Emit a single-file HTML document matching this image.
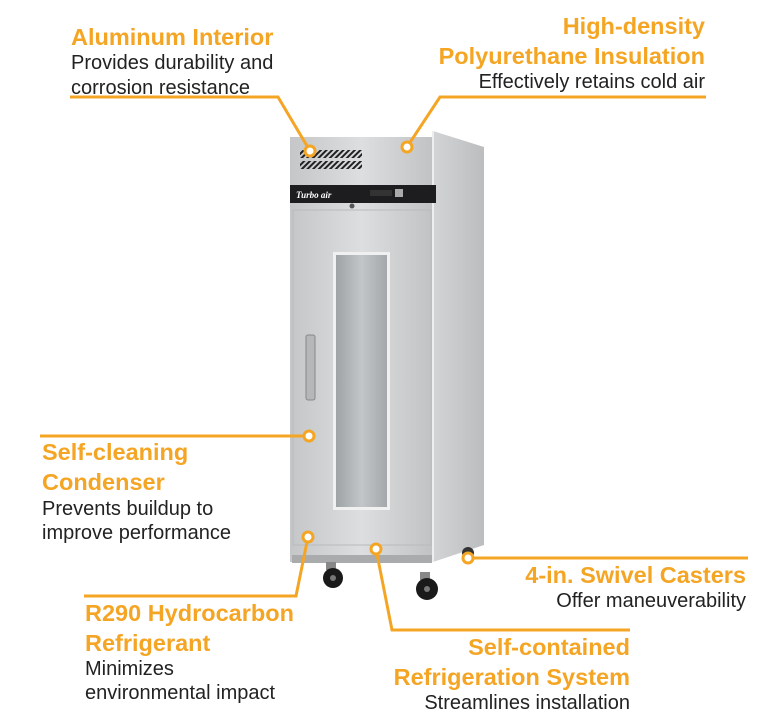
<!DOCTYPE html>
<html><head><meta charset="utf-8"><style>
html,body{margin:0;padding:0;background:#fff;}
svg{display:block;}
.t{font-family:"Liberation Sans",sans-serif;font-weight:bold;font-size:23.5px;fill:#f5a524;}
.b{font-family:"Liberation Sans",sans-serif;font-size:20px;fill:#222;}
</style></head><body>
<svg width="770" height="726" viewBox="0 0 770 726" xmlns="http://www.w3.org/2000/svg">
<defs>
<linearGradient id="front" x1="0" x2="1" y1="0" y2="0">
<stop offset="0" stop-color="#c4c6c8"/><stop offset="0.5" stop-color="#dcdee0"/><stop offset="1" stop-color="#c0c2c4"/>
</linearGradient>
<linearGradient id="side" x1="0" x2="1"><stop offset="0" stop-color="#d2d4d6"/><stop offset="1" stop-color="#bbbdbf"/></linearGradient>
<linearGradient id="glass" x1="0" x2="1"><stop offset="0" stop-color="#9ea3a6"/><stop offset="0.5" stop-color="#c2c6c8"/><stop offset="1" stop-color="#a4a8ab"/></linearGradient>
<pattern id="vent" width="4" height="4" patternUnits="userSpaceOnUse" patternTransform="rotate(45)"><rect width="2" height="4" fill="#222"/></pattern>
</defs>
<polygon points="433,131 484,147 484,545 433,562" fill="url(#side)"/>
<rect x="290" y="137" width="143" height="425" fill="url(#front)"/>
<line x1="433" y1="131" x2="433" y2="562" stroke="#eee" stroke-width="2"/>
<rect x="300" y="150" width="62" height="8" fill="url(#vent)"/>
<rect x="300" y="161" width="62" height="8" fill="url(#vent)"/>
<rect x="290" y="185" width="146" height="18" fill="#1d1d1f"/>
<text x="296" y="198" font-family="Liberation Serif,serif" font-style="italic" font-weight="bold" font-size="9" fill="#fff">Turbo air</text>
<rect x="370" y="190" width="22" height="6" fill="#333"/>
<rect x="395" y="189" width="8" height="8" fill="#aaa"/>
<circle cx="352" cy="206" r="2.5" fill="#555"/>
<rect x="293" y="210" width="138" height="335" fill="none" stroke="#b8babc" stroke-width="1"/>
<rect x="333" y="252" width="57" height="258" fill="#f0f0f0"/>
<rect x="336" y="255" width="51" height="252" fill="url(#glass)"/>
<rect x="306" y="335" width="9" height="65" rx="2" fill="#b5b7b9" stroke="#888"/>
<rect x="292" y="555" width="140" height="8" fill="#a9abad"/>
<rect x="326" y="562" width="10" height="8" fill="#888"/>
<circle cx="333" cy="578" r="10" fill="#1a1a1a"/><circle cx="333" cy="578" r="3" fill="#777"/>
<rect x="420" y="572" width="10" height="8" fill="#888"/>
<circle cx="427" cy="589" r="11" fill="#1a1a1a"/><circle cx="427" cy="589" r="3" fill="#777"/>
<circle cx="468" cy="553" r="6" fill="#333"/>
<g stroke="#f5a524" stroke-width="3" fill="none">
<polyline points="70,97 278,97 310,151"/>
<polyline points="706,97 440,97 407,147"/>
<polyline points="40,436 309,436"/>
<polyline points="308,537 296,596 84,596"/>
<polyline points="376,549 392,630 630,630"/>
<polyline points="468,558 748,558"/>
</g>
<g fill="#fff" stroke="#f5a524" stroke-width="3">
<circle cx="310" cy="151" r="5"/><circle cx="407" cy="147" r="5"/>
<circle cx="309" cy="436" r="5"/><circle cx="308" cy="537" r="5"/>
<circle cx="376" cy="549" r="5"/><circle cx="468" cy="558" r="5"/>
</g>
<text class="t" x="71" y="45">Aluminum Interior</text>
<text class="b" x="71" y="69">Provides durability and</text>
<text class="b" x="71" y="94">corrosion resistance</text>

<text class="t" x="705" y="34" text-anchor="end">High-density</text>
<text class="t" x="705" y="64" text-anchor="end">Polyurethane Insulation</text>
<text class="b" x="705" y="88" text-anchor="end">Effectively retains cold air</text>

<text class="t" x="42" y="460">Self-cleaning</text>
<text class="t" x="42" y="490">Condenser</text>
<text class="b" x="42" y="515">Prevents buildup to</text>
<text class="b" x="42" y="539">improve performance</text>

<text class="t" x="746" y="583" text-anchor="end">4-in. Swivel Casters</text>
<text class="b" x="746" y="607" text-anchor="end">Offer maneuverability</text>

<text class="t" x="85" y="621">R290 Hydrocarbon</text>
<text class="t" x="85" y="651">Refrigerant</text>
<text class="b" x="85" y="675">Minimizes</text>
<text class="b" x="85" y="699">environmental impact</text>

<text class="t" x="630" y="655" text-anchor="end">Self-contained</text>
<text class="t" x="630" y="685" text-anchor="end">Refrigeration System</text>
<text class="b" x="630" y="709" text-anchor="end">Streamlines installation</text>
</svg>
</body></html>
